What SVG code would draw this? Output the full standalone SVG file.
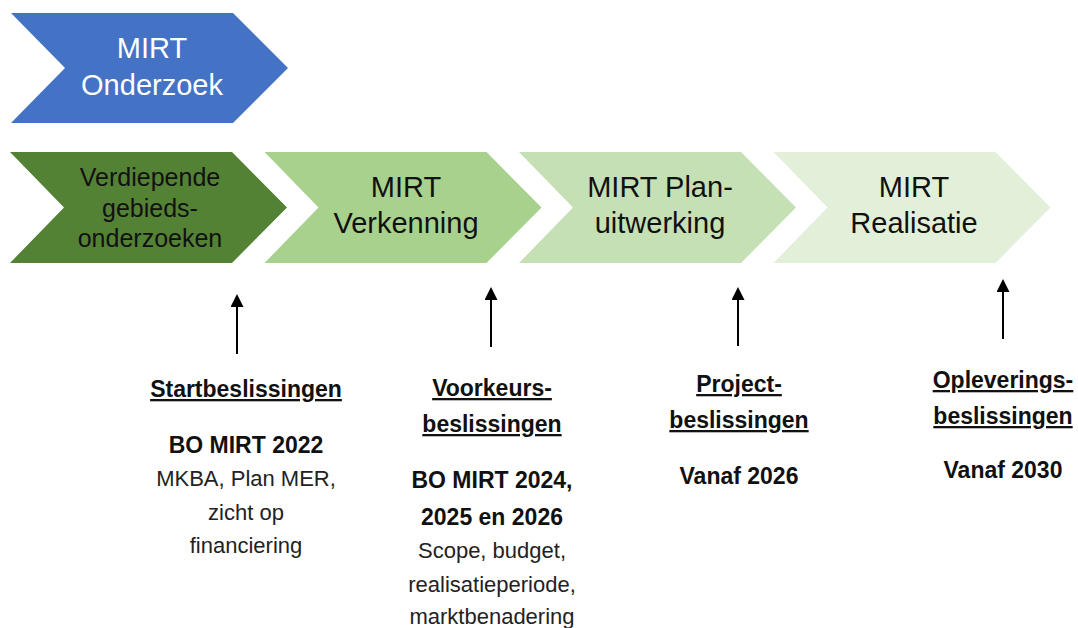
<svg xmlns="http://www.w3.org/2000/svg" width="1078" height="628" viewBox="0 0 1078 628">
<style>
.t{font-family:"Liberation Sans",Arial,sans-serif;text-anchor:middle}
.ch{font-size:29px;fill:#111}
.ch1{font-size:25px;fill:#111}
.hd{font-size:23px;font-weight:bold;fill:#111;text-decoration:underline}
.bd{font-size:23px;font-weight:bold;fill:#111}
.rg{font-size:22px;fill:#222}
.arr{stroke:#000;stroke-width:2;fill:none}
</style>
<defs>
<marker id="ah" markerUnits="userSpaceOnUse" markerWidth="14" markerHeight="14" refX="0" refY="6.5" orient="auto">
<path d="M0,0 L13,6.5 L0,13 z" fill="#000"/>
</marker>
</defs>
<rect width="1078" height="628" fill="#fff"/>
<g id="onderzoek">
<polygon points="11,13 233,13 288,68 233,123 11,123 65,68" fill="#4472C4"/>
<text class="t" x="152" y="58" font-size="29" fill="#fff">MIRT</text>
<text class="t" x="152" y="95" font-size="29" fill="#fff">Onderzoek</text>
</g>
<g id="gebiedsonderzoeken">
<polygon points="10,152 232,152 287,207.5 232,263 10,263 64,207.5" fill="#548235"/>
<text class="t ch1" x="150" y="186">Verdiepende</text>
<text class="t ch1" x="150" y="217">gebieds-</text>
<text class="t ch1" x="150" y="247">onderzoeken</text>
</g>
<g id="verkenning">
<polygon points="264.5,152 486.5,152 541.5,207.5 486.5,263 264.5,263 318.5,207.5" fill="#A9D18E"/>
<text class="t ch" x="406" y="197">MIRT</text>
<text class="t ch" x="406" y="233">Verkenning</text>
</g>
<g id="planuitwerking">
<polygon points="519,152 741,152 796,207.5 741,263 519,263 573,207.5" fill="#C5E0B4"/>
<text class="t ch" x="660" y="197">MIRT Plan-</text>
<text class="t ch" x="660" y="233">uitwerking</text>
</g>
<g id="realisatie">
<polygon points="773.5,152 995.5,152 1050.5,207.5 995.5,263 773.5,263 827.5,207.5" fill="#E2F0D9"/>
<text class="t ch" x="914" y="197">MIRT</text>
<text class="t ch" x="914" y="233">Realisatie</text>
</g>
<g id="connectors">
<line class="arr" x1="237" y1="354" x2="237" y2="307" marker-end="url(#ah)"/>
<line class="arr" x1="491" y1="347" x2="491" y2="300" marker-end="url(#ah)"/>
<line class="arr" x1="738" y1="346" x2="738" y2="300" marker-end="url(#ah)"/>
<line class="arr" x1="1003" y1="339" x2="1003" y2="292" marker-end="url(#ah)"/>
</g>
<g id="startbeslissingen">
<text class="t hd" x="246" y="397">Startbeslissingen</text>
<text class="t bd" x="246" y="453">BO MIRT 2022</text>
<text class="t rg" x="246" y="486">MKBA, Plan MER,</text>
<text class="t rg" x="246" y="520">zicht op</text>
<text class="t rg" x="246" y="553">financiering</text>
</g>
<g id="voorkeursbeslissingen">
<text class="t hd" x="492" y="396">Voorkeurs-</text>
<text class="t hd" x="492" y="432">beslissingen</text>
<text class="t bd" x="492" y="488">BO MIRT 2024,</text>
<text class="t bd" x="492" y="525">2025 en 2026</text>
<text class="t rg" x="492" y="558">Scope, budget,</text>
<text class="t rg" x="492" y="592">realisatieperiode,</text>
<text class="t rg" x="492" y="624">marktbenadering</text>
</g>
<g id="projectbeslissingen">
<text class="t hd" x="739" y="392">Project-</text>
<text class="t hd" x="739" y="428">beslissingen</text>
<text class="t bd" x="739" y="484">Vanaf 2026</text>
</g>
<g id="opleveringsbeslissingen">
<text class="t hd" x="1003" y="388">Opleverings-</text>
<text class="t hd" x="1003" y="424">beslissingen</text>
<text class="t bd" x="1003" y="478">Vanaf 2030</text>
</g>
</svg>
